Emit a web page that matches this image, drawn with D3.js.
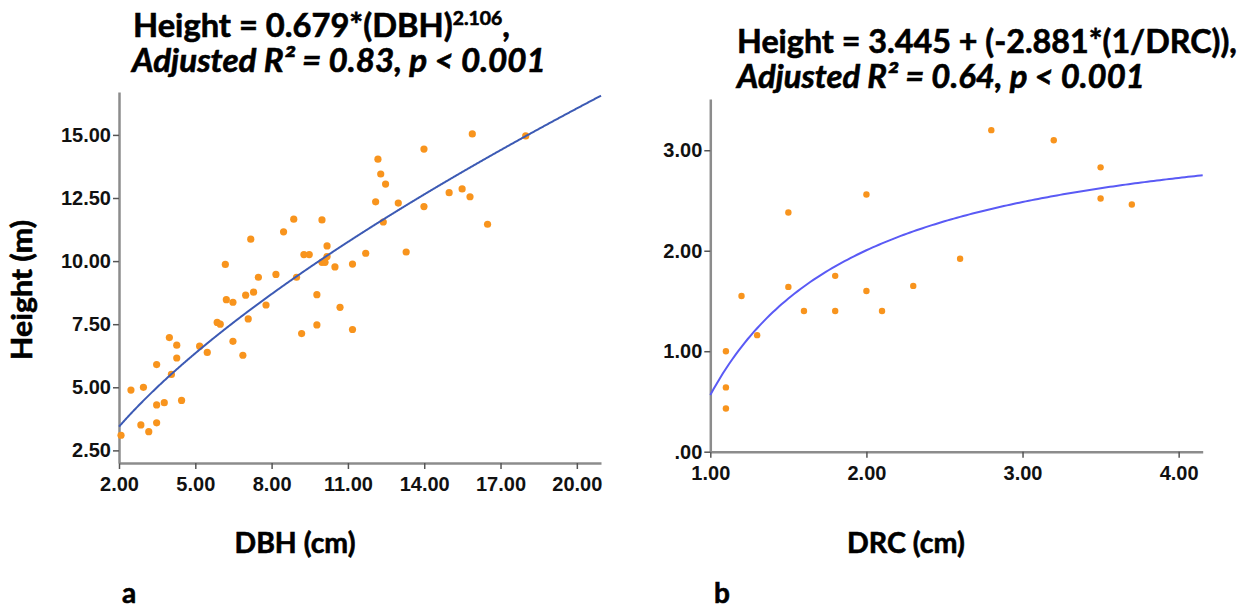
<!DOCTYPE html>
<html>
<head>
<meta charset="utf-8">
<script src="https://cdn.jsdelivr.net/npm/d3@7"></script>
<style>
body { margin: 0; background: #fff; }
svg { display: block; }
.tick text { font-family: "Liberation Sans", Arial, sans-serif; font-weight: bold; font-size: 20px; fill: #111; }
.tick line { stroke: #555; stroke-width: 1.5; }
.domain { stroke: #8c8c8c; stroke-width: 2.5; }
.lbl { font-family: Lato, "Open Sans", sans-serif; font-weight: bold; fill: #000; stroke: #000; stroke-width: 0.6; }
</style>
</head>
<body>
<svg id="chart" width="1254" height="608"></svg>
<script>
// panel a : height against DBH
var dbh = [2.08, 2.47, 2.86, 2.96, 3.17, 3.48, 3.48, 3.48, 3.78, 3.98, 4.06, 4.27, 4.27, 4.46,
    5.17, 5.47, 5.86, 5.98, 6.18, 6.22, 6.48, 6.48, 6.87, 6.98, 7.08, 7.18, 7.29, 7.48, 7.78,
    8.17, 8.47, 8.87, 8.98, 9.18, 9.27, 9.48, 9.78, 9.78, 9.98, 9.98, 10.10, 10.18, 10.18, 10.49,
    10.69, 11.18, 11.18, 11.70, 12.09, 12.18, 12.29, 12.39, 12.48, 12.98, 13.29, 13.99, 13.99,
    14.98, 15.49, 15.80, 15.89, 16.49, 17.99];
var heightA = [3.10, 4.89, 3.51, 5.00, 3.24, 5.90, 4.30, 3.59, 4.39, 6.97, 5.51, 6.67, 6.16, 4.48,
    6.63, 6.38, 7.57, 7.50, 9.87, 8.47, 8.37, 6.82, 6.27, 8.65, 7.71, 10.87, 8.77, 9.36, 8.26,
    9.47, 11.16, 11.66, 9.36, 7.13, 10.26, 10.26, 8.67, 7.47, 11.63, 9.95, 9.95, 10.60, 10.18, 9.77,
    8.17, 9.88, 7.29, 10.31, 12.35, 14.04, 13.45, 11.55, 13.05, 12.30, 10.36, 14.44, 12.16,
    12.71, 12.86, 12.55, 15.04, 11.46, 14.96];

// panel b : height against DRC
var drc = [1.1, 1.1, 1.1, 1.2, 1.3, 1.5, 1.5, 1.6, 1.8, 1.8, 2.0, 2.0, 2.1, 2.3, 2.6, 2.8, 3.2, 3.5, 3.5, 3.7];
var heightB = [1.00, 0.64, 0.43, 1.55, 1.16, 2.38, 1.64, 1.40, 1.75, 1.40, 2.56, 1.60, 1.40, 1.65,
    1.92, 3.20, 3.10, 2.83, 2.52, 2.46];

var ticksAx = [2, 5, 8, 11, 14, 17, 20];
var ticksAy = [2.5, 5, 7.5, 10, 12.5, 15];
var ticksBx = [1, 2, 3, 4];
var ticksBy = [0, 1, 2, 3];

// fitted curves (power curve as drawn in panel a, inverse model of panel b)
var fitA = {a: 2.163, b: 0.669};
var fitB = {b0: 3.445, b1: -2.881};

var svg = d3.select("#chart");

function fmt(d) {
    var s = d3.format(".2f")(d);
    return s.indexOf("0.") === 0 ? s.slice(1) : s;
}

// squeeze a text horizontally to the width it has in the picture
function squeeze(text, w, rot) {
    text.each(function() {
	var t = d3.select(this);
	var bw = this.getBBox().width;
	var x = +t.attr("x"), y = +t.attr("y");
	t.attr("x", 0).attr("y", 0)
	    .attr("transform", "translate(" + x + "," + y + ")" + (rot ? " rotate(" + rot + ")" : "") +
		  " scale(" + (w / bw) + ",1)");
    });
}

function panel(o) {
    var x = d3.scaleLinear().domain(o.xdom).range(o.xr);
    var y = d3.scaleLinear().domain(o.ydom).range(o.yr);
    var g = svg.append("g");

    g.append("g")
	.attr("transform", "translate(0," + o.yr[0] + ")")
	.call(d3.axisBottom(x).tickValues(o.xt).tickFormat(fmt).tickSize(6).tickSizeOuter(0).tickPadding(8));
    g.append("g")
	.attr("transform", "translate(" + o.xr[0] + ",0)")
	.call(d3.axisLeft(y).tickValues(o.yt).tickFormat(fmt).tickSize(6).tickSizeOuter(0).tickPadding(2));

    g.selectAll(".dot")
	.data(o.xs)
	.enter().append("circle")
	.attr("cx", function(d) { return x(d); })
	.attr("cy", function(d, i) { return y(o.ys[i]); })
	.attr("r", o.r)
	.attr("fill", "#f8941d");

    var pts = d3.range(o.xdom[0], o.xdom[1], 0.02).concat([o.xdom[1]]);
    g.append("path")
	.datum(pts)
	.attr("fill", "none")
	.attr("stroke", o.lineColor)
	.attr("stroke-width", 2)
	.attr("d", d3.line().x(function(d) { return x(d); }).y(function(d) { return y(o.curve(d)); }));
}

panel({
    xdom: [2, 20.95], xr: [119, 601], ydom: [2.0, 16.7], yr: [463, 92],
    xt: ticksAx, yt: ticksAy, xs: dbh, ys: heightA, r: 3.6, lineColor: "#3c5ab4",
    curve: function(d) { return fitA.a * Math.pow(d, fitA.b); }
});
panel({
    xdom: [1, 4.154], xr: [710.3, 1202.7], ydom: [0, 3.51], yr: [451.7, 99],
    xt: ticksBx, yt: ticksBy, xs: drc, ys: heightB, r: 3.2, lineColor: "#5a5af5",
    curve: function(d) { return fitB.b0 + fitB.b1 / d; }
});

// equations above the panels
var t1 = svg.append("text").attr("class", "lbl").attr("x", 133).attr("y", 37).style("font-size", "32px");
t1.append("tspan").text("Height = 0.679*(DBH)");
t1.append("tspan").attr("dy", -12).style("font-size", "19px").text("2.106");
t1.append("tspan").attr("dy", 12).text(",");
squeeze(t1, 377);

var t2 = svg.append("text").attr("class", "lbl").attr("x", 132).attr("y", 72)
    .style("font-size", "32px").style("font-style", "italic")
    .text("Adjusted R\u00b2 = 0.83, p < 0.001");
squeeze(t2, 416);

var t3 = svg.append("text").attr("class", "lbl").attr("x", 737).attr("y", 53)
    .style("font-size", "32px").text("Height = 3.445 + (-2.881*(1/DRC)),");
squeeze(t3, 500);

var t4 = svg.append("text").attr("class", "lbl").attr("x", 737).attr("y", 88)
    .style("font-size", "32px").style("font-style", "italic")
    .text("Adjusted R\u00b2 = 0.64, p < 0.001");
squeeze(t4, 410);

// axis titles
var xa = svg.append("text").attr("class", "lbl").attr("x", 295).attr("y", 553)
    .attr("text-anchor", "middle").style("font-size", "28px").text("DBH (cm)");
squeeze(xa, 121);
var xb = svg.append("text").attr("class", "lbl").attr("x", 906).attr("y", 553)
    .attr("text-anchor", "middle").style("font-size", "28px").text("DRC (cm)");
squeeze(xb, 118);
var ya = svg.append("text").attr("class", "lbl").attr("x", 32).attr("y", 290)
    .attr("text-anchor", "middle").style("font-size", "28px").text("Height (m)");
squeeze(ya, 140, -90);

svg.append("text").attr("class", "lbl").attr("x", 122).attr("y", 603).style("font-size", "28px").text("a");
svg.append("text").attr("class", "lbl").attr("x", 714).attr("y", 603).style("font-size", "28px").text("b");
</script>
</body>
</html>
